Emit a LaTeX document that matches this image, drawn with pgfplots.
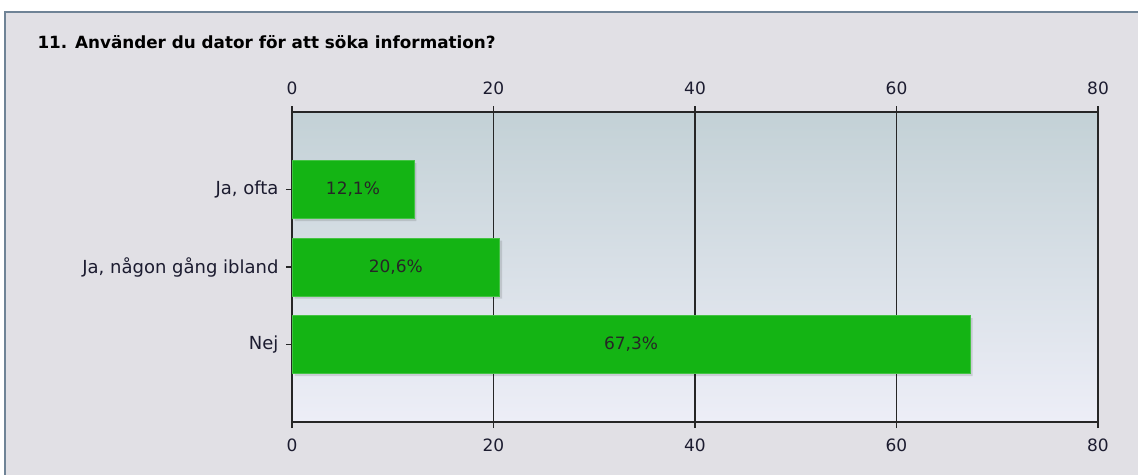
\documentclass[border=0pt]{standalone}
\usepackage{fontspec}
\setmainfont{DejaVu Sans}
\usepackage{pgfplots}
\pgfplotsset{compat=1.18}
\definecolor{outerbg}{HTML}{E1E0E5}
\definecolor{framec}{HTML}{6F8396}
\definecolor{plottop}{HTML}{C3D1D6}
\definecolor{plotbot}{HTML}{EDEEF7}
\definecolor{bargreen}{HTML}{14B414}
\definecolor{labelc}{HTML}{1C1C30}

\pgfplotsset{
  frame/.style={
    at={(292pt,52pt)}, anchor=south west,
    scale only axis, width=806pt, height=310pt,
    xmin=0, xmax=80, ymin=-1, ymax=3, y dir=reverse,
    xtick={0,20,...,80},
    /pgf/number format/assume math mode=true,
    tick label style={font=\fontsize{17}{20}\selectfont, text=labelc},
    major tick length=6pt, tick align=outside,
  }
}

\begin{document}
\begin{tikzpicture}[x=1pt,y=1pt]
\useasboundingbox (0,0) rectangle (1138,474);
\fill[white] (0,0) rectangle (1138,474);
\filldraw[fill=outerbg, draw=framec, line width=1.5pt] (5,-5) rectangle (1145,462);
\node[anchor=west, font=\fontsize{16.8}{20}\selectfont\bfseries] at (34,432)
  {11. Använder du dator för att söka information?};

% main axis: bars, grid, bottom labels
\begin{axis}[frame,
  axis background/.style={top color=plottop, bottom color=plotbot},
  xtick pos=both, xticklabel pos=lower,
  xticklabel style={yshift=-7pt},
  ytick={0,1,2}, ytick pos=left,
  yticklabels={{Ja, ofta},{Ja, någon gång ibland},{Nej}},
  yticklabel style={xshift=-4pt, font=\fontsize{18}{21}\selectfont},
  xmajorgrids, grid style={black!85, line width=1.1pt},
  axis line style={black!85, line width=1.3pt},
  tick style={black!85, line width=1.1pt},
]
\addplot[xbar, bar width=58pt, fill=bargreen, draw=bargreen!80!white,
  preaction={fill=black, fill opacity=0.12, draw=none,
    transform canvas={xshift=2.5pt, yshift=-2.5pt}}]
  coordinates {(12.1,0) (20.6,1) (67.3,2)};
\addplot[draw=none, mark=none, nodes near coords, point meta=explicit symbolic,
  nodes near coords align=center,
  every node near coord/.append style={font=\fontsize{17}{20}\selectfont, text=black!85}]
  coordinates {(6.05,0) [12,1\%] (10.3,1) [20,6\%] (33.65,2) [67,3\%]};
\end{axis}

% overlay axis: top tick labels only
\begin{axis}[frame,
  axis x line*=top, axis y line=none,
  xtick style={draw=none}, ytick=\empty,
  xticklabel style={yshift=8pt},
  axis line style={draw=none},
]
\end{axis}
\end{tikzpicture}
\end{document}
